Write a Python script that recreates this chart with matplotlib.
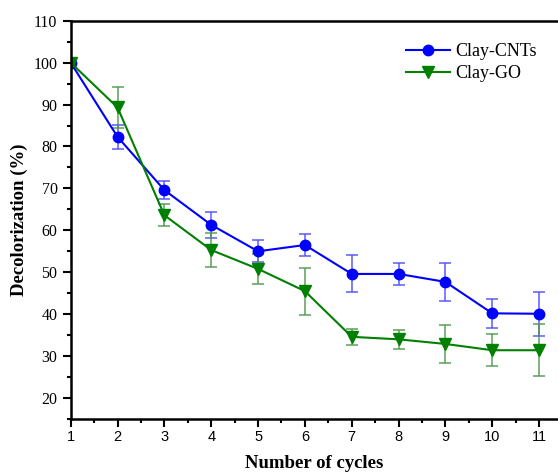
import matplotlib
matplotlib.use("Agg")
import matplotlib.pyplot as plt
from matplotlib.ticker import MultipleLocator

cycles = [1, 2, 3, 4, 5, 6, 7, 8, 9, 10, 11]
cnts = [100, 82.3, 69.6, 61.3, 55.0, 56.5, 49.6, 49.6, 47.7, 40.2, 40.1]
cnts_err = [0, 2.9, 2.2, 3.1, 2.6, 2.7, 4.4, 2.7, 4.5, 3.5, 5.3]
go = [100, 89.3, 63.6, 55.3, 50.8, 45.5, 34.6, 34.0, 32.9, 31.4, 31.4]
go_err = [0, 4.8, 2.6, 4.0, 3.5, 5.6, 1.9, 2.3, 4.6, 3.8, 6.2]

serif = "Liberation Serif"

fig = plt.figure(figsize=(5.58, 4.73), dpi=100)
ax = fig.add_axes([0.1267, 0.1142, 0.873, 0.842])

ax.errorbar(cycles, cnts, yerr=cnts_err, fmt='none', ecolor=(0.3, 0.3, 1.0),
            elinewidth=1.2, capsize=4, capthick=1.2, alpha=0.85)
ax.errorbar(cycles, go, yerr=go_err, fmt='none', ecolor=(0.3, 0.6, 0.3),
            elinewidth=1.2, capsize=4, capthick=1.2, alpha=0.85)
ax.plot(cycles, cnts, '-o', color='#0000ff', lw=1.5, markersize=7.5, label='Clay-CNTs')
ax.plot(cycles, go, '-v', color='#008000', lw=1.5, markersize=8, label='Clay-GO')

ax.set_xlim(1, 11.4)
ax.set_ylim(15, 110)
ax.xaxis.set_major_locator(MultipleLocator(1))
ax.xaxis.set_minor_locator(MultipleLocator(0.5))
ax.yaxis.set_major_locator(MultipleLocator(10))
ax.yaxis.set_minor_locator(MultipleLocator(5))
ax.tick_params(which='major', direction='out', length=6, width=1.5)
ax.tick_params(which='minor', direction='out', length=3, width=1.5)
ax.tick_params(axis='x', labelsize=10.5, pad=2)
ax.set_yticks(range(20, 111, 10))
for lab in ax.get_yticklabels():
    lab.set_fontfamily(serif)
    lab.set_fontsize(11.5)
for lab in ax.get_xticklabels():
    lab.set_fontfamily("Liberation Sans")

for s in ['left', 'bottom', 'top']:
    ax.spines[s].set_linewidth(1.8)
ax.spines['right'].set_visible(False)

ax.set_xlabel('Number of cycles', fontfamily=serif, fontweight='bold', fontsize=13.5, labelpad=8)
ax.set_ylabel('Decolorization (%)', fontfamily=serif, fontweight='bold', fontsize=13.5, labelpad=4)

ax.legend(loc='upper right', frameon=False, prop={'family': serif, 'size': 13},
          bbox_to_anchor=(0.99, 0.985), handlelength=2.4, labelspacing=0.3, handletextpad=0.3)

fig.savefig('out.png', dpi=100)
